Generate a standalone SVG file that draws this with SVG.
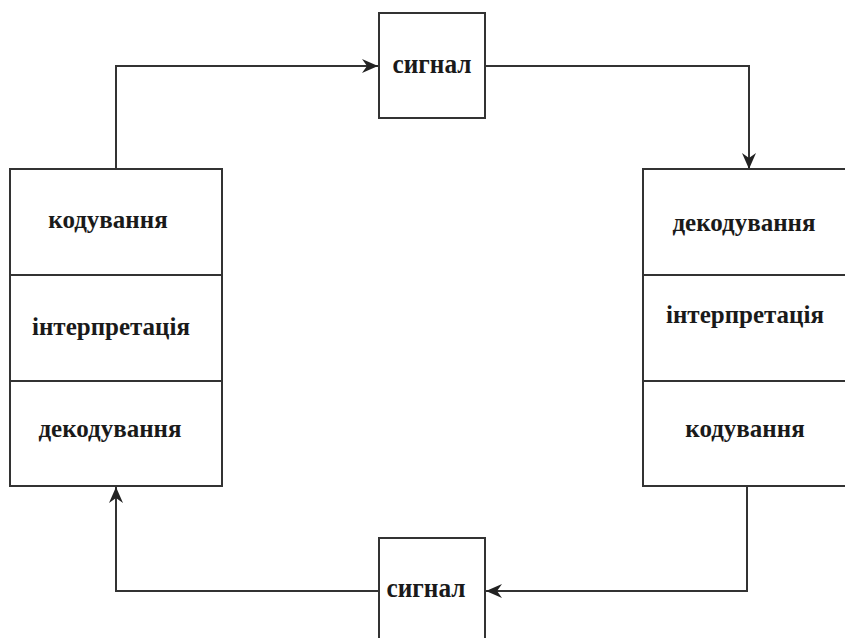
<svg xmlns="http://www.w3.org/2000/svg" width="845" height="638" viewBox="0 0 845 638">
<style>
.box{fill:#fff;stroke:#333;stroke-width:2}
.div{stroke:#333;stroke-width:2}
.lbl{font-family:"Liberation Serif","Times New Roman",serif;font-weight:bold;font-size:25px;fill:#1a1a1a;text-anchor:middle}
.sig{font-family:"Liberation Serif","Times New Roman",serif;font-weight:bold;font-size:28px;fill:#1a1a1a;text-anchor:middle}
.con{fill:none;stroke:#333;stroke-width:2}
</style>
<defs>
<marker id="arr" viewBox="0 0 16 14" refX="16" refY="7" markerWidth="16" markerHeight="14" markerUnits="userSpaceOnUse" orient="auto">
<path d="M0,0 L16,7 L0,14 L5,7 Z" fill="#222"/>
</marker>
</defs>
<g id="connectors">
<path class="con" d="M116,169 V66 H378" marker-end="url(#arr)"/>
<path class="con" d="M486,66 H749 V169" marker-end="url(#arr)"/>
<path class="con" d="M747,486 V591 H486" marker-end="url(#arr)"/>
<path class="con" d="M378,591 H116 V487" marker-end="url(#arr)"/>
</g>
<g id="signal-top">
<rect class="box" x="379" y="13" width="106" height="105"/>
<text class="sig" x="432" y="73" textLength="79" lengthAdjust="spacingAndGlyphs">сигнал</text>
</g>
<g id="left-block">
<rect class="box" x="10" y="169" width="212" height="317"/>
<line class="div" x1="10" y1="275" x2="222" y2="275"/>
<line class="div" x1="10" y1="381" x2="222" y2="381"/>
<text class="lbl" x="108" y="228">кодування</text>
<text class="lbl" x="111" y="335">інтерпретація</text>
<text class="lbl" x="110" y="437">декодування</text>
</g>
<g id="right-block">
<rect class="box" x="643" y="169" width="212" height="317"/>
<line class="div" x1="643" y1="275" x2="855" y2="275"/>
<line class="div" x1="643" y1="381" x2="855" y2="381"/>
<text class="lbl" x="744" y="231">декодування</text>
<text class="lbl" x="745" y="323">інтерпретація</text>
<text class="lbl" x="745" y="437">кодування</text>
</g>
<g id="signal-bottom">
<rect class="box" x="379" y="538" width="106" height="110"/>
<text class="sig" x="426" y="597" textLength="79" lengthAdjust="spacingAndGlyphs">сигнал</text>
</g>
</svg>
